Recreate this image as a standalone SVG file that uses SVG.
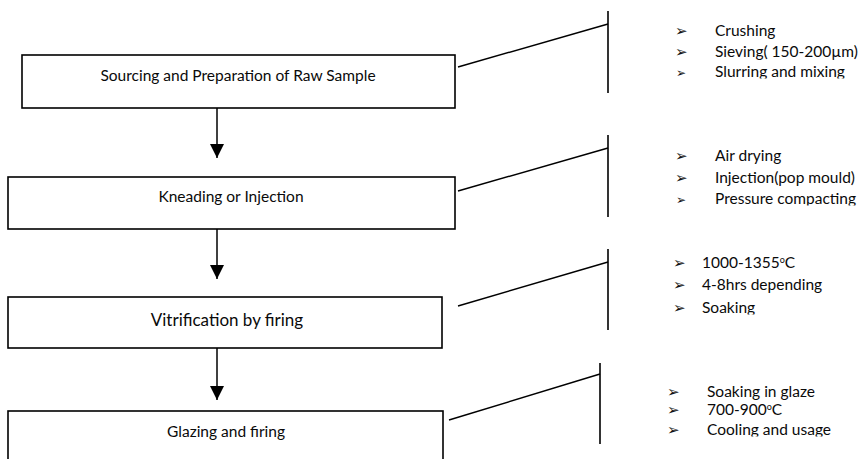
<svg xmlns="http://www.w3.org/2000/svg" width="861" height="459" viewBox="0 0 861 459">
  <style>
    .box { fill: #ffffff; stroke: #000000; stroke-width: 1.6; }
    .lbl { font-family: Lato, "Liberation Sans", sans-serif; font-size: 15.5px; fill: #0a0a0a; text-anchor: middle; }
    .big { font-size: 17px; }
    .wire { stroke: #000000; stroke-width: 1.5; fill: none; }
    .bar { stroke: #000000; stroke-width: 1.6; fill: none; }
    .item { font-family: Lato, "Liberation Sans", sans-serif; font-size: 15.5px; fill: #0a0a0a; }
    .mark { font-family: "DejaVu Sans", sans-serif; font-size: 15px; fill: #111111; }
    .small { font-size: 12px; }
  </style>
  <defs>
    <marker id="arrow" viewBox="0 0 14 14" refX="14" refY="7" markerWidth="14" markerHeight="14" markerUnits="userSpaceOnUse" orient="auto">
      <path d="M0,0 L14,7 L0,14 Z" fill="#000000"/>
    </marker>
    <clipPath id="clip1"><rect x="660" y="0" width="201" height="78.5"/></clipPath>
    <clipPath id="clip2"><rect x="660" y="140" width="201" height="65.5"/></clipPath>
    <clipPath id="clip3"><rect x="660" y="250" width="201" height="64.5"/></clipPath>
    <clipPath id="clip4"><rect x="650" y="375" width="211" height="61.5"/></clipPath>
  </defs>

  <!-- flow connectors between process steps -->
  <g id="connectors">
    <line class="wire" x1="217" y1="108" x2="217" y2="158" marker-end="url(#arrow)"/>
    <line class="wire" x1="217" y1="229" x2="217" y2="279" marker-end="url(#arrow)"/>
    <line class="wire" x1="217" y1="348" x2="217" y2="400" marker-end="url(#arrow)"/>
    <!-- leader lines to the detail lists -->
    <line class="wire" x1="458" y1="67" x2="608" y2="24"/>
    <line class="bar" x1="608" y1="11" x2="608" y2="93"/>
    <line class="wire" x1="458" y1="191" x2="608" y2="148"/>
    <line class="bar" x1="608" y1="135" x2="608" y2="217"/>
    <line class="wire" x1="458" y1="306" x2="608" y2="262"/>
    <line class="bar" x1="608" y1="249" x2="608" y2="330"/>
    <line class="wire" x1="449" y1="420" x2="600" y2="374"/>
    <line class="bar" x1="600" y1="363" x2="600" y2="444"/>
  </g>

  <g id="step-sourcing">
    <rect class="box" x="22" y="55" width="433" height="53"/>
    <text class="lbl" x="238" y="81">Sourcing and Preparation of Raw Sample</text>
  </g>

  <g id="step-kneading">
    <rect class="box" x="8" y="177" width="447" height="52"/>
    <text class="lbl" x="231" y="202">Kneading or Injection</text>
  </g>

  <g id="step-vitrification">
    <rect class="box" x="8" y="297" width="434" height="51"/>
    <text class="lbl big" x="227" y="326">Vitrification by firing</text>
  </g>

  <g id="step-glazing">
    <rect class="box" x="8" y="411" width="435" height="60"/>
    <text class="lbl" x="226" y="437">Glazing and firing</text>
  </g>

  <g id="details-sourcing" clip-path="url(#clip1)">
    <text class="mark" x="675" y="36">➢</text>
    <text class="mark" x="675" y="57">➢</text>
    <text class="mark small" x="676" y="77">➢</text>
    <text class="item" x="715" y="36">Crushing</text>
    <text class="item" x="715" y="57">Sieving( 150-200µm)</text>
    <text class="item" x="715" y="77">Slurring and mixing</text>
  </g>

  <g id="details-kneading" clip-path="url(#clip2)">
    <text class="mark" x="675" y="161">➢</text>
    <text class="mark" x="675" y="183">➢</text>
    <text class="mark small" x="676" y="204">➢</text>
    <text class="item" x="715" y="161">Air drying</text>
    <text class="item" x="715" y="183">Injection(pop mould)</text>
    <text class="item" x="715" y="204">Pressure compacting</text>
  </g>

  <g id="details-vitrification" clip-path="url(#clip3)">
    <text class="mark" x="673" y="268">➢</text>
    <text class="mark" x="673" y="290">➢</text>
    <text class="mark" x="673" y="313">➢</text>
    <text class="item" x="702" y="268">1000-1355<tspan font-size="9px" dy="-5">o</tspan><tspan dy="5">C</tspan></text>
    <text class="item" x="702" y="290">4-8hrs depending</text>
    <text class="item" x="702" y="313">Soaking</text>
  </g>

  <g id="details-glazing" clip-path="url(#clip4)">
    <text class="mark" x="667" y="397">➢</text>
    <text class="mark" x="667" y="415">➢</text>
    <text class="mark" x="667" y="435">➢</text>
    <text class="item" x="707" y="397">Soaking in glaze</text>
    <text class="item" x="707" y="415">700-900<tspan font-size="9px" dy="-5">o</tspan><tspan dy="5">C</tspan></text>
    <text class="item" x="707" y="435">Cooling and usage</text>
  </g>
</svg>
